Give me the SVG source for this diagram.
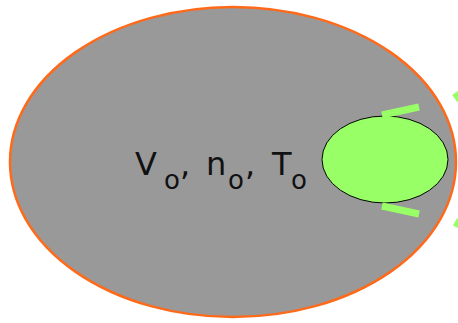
<svg xmlns="http://www.w3.org/2000/svg" width="458" height="323" viewBox="0 0 458 323">
<style>
.main{font-family:"DejaVu Sans","Liberation Sans",sans-serif;font-size:32px;fill:#111}
.sub{font-size:26px}
.bar{stroke:#99ff66;stroke-width:7;fill:none}
</style>
<rect width="458" height="323" fill="#ffffff"/>
<g id="container">
<ellipse cx="233" cy="162" rx="223" ry="155" fill="#999999" stroke="#ff6a1a" stroke-width="2.5"/>
<text class="main"><tspan x="135" y="175">V</tspan><tspan class="sub" x="164" y="189">o</tspan><tspan x="180" y="175">,</tspan><tspan x="206" y="175">n</tspan><tspan class="sub" x="228" y="189">o</tspan><tspan x="245" y="175">,</tspan><tspan x="272" y="175">T</tspan><tspan class="sub" x="291" y="189">o</tspan></text>
</g>
<g id="particle">
<ellipse cx="385" cy="159.5" rx="63" ry="43.5" fill="#99ff66" stroke="#000000" stroke-width="1"/>
</g>
<g id="connectors">
<line class="bar" x1="382" y1="115" x2="419" y2="107"/>
<line class="bar" x1="382" y1="206" x2="419" y2="214"/>
<line class="bar" x1="455" y1="93" x2="460" y2="100" stroke-width="5"/>
<line class="bar" x1="456" y1="227" x2="460" y2="220" stroke-width="5"/>
</g>
</svg>
